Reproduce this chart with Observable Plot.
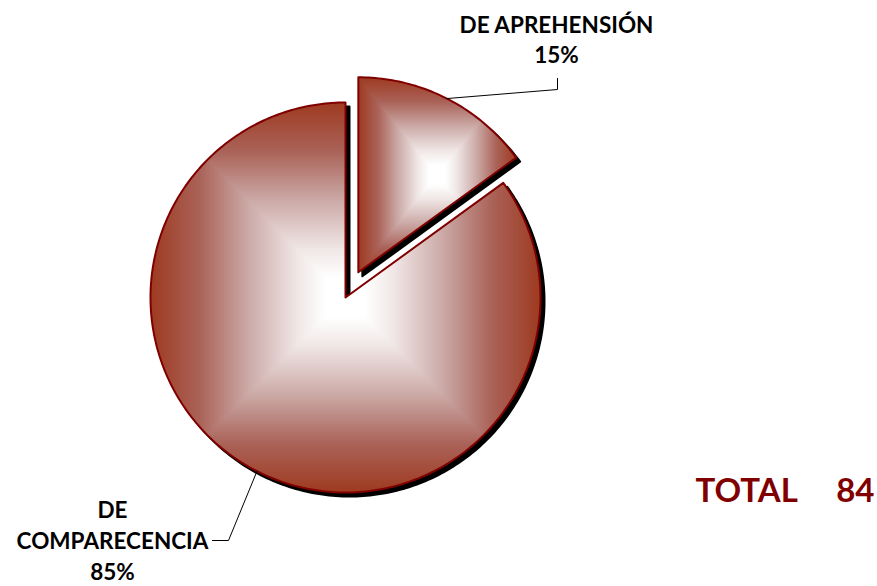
<!DOCTYPE html>
<html>
<head>
<meta charset="utf-8">
<script src="https://cdn.jsdelivr.net/npm/d3@7"></script>
<script src="https://cdn.jsdelivr.net/npm/@observablehq/plot@0.6"></script>
<style>
  html, body { margin: 0; padding: 0; background: #fff; }
  #chart { width: 877px; height: 586px; }
</style>
</head>
<body>
<div id="chart"></div>
<script>
// ---- data ----
const categories = ["DE APREHENSIÓN", "DE COMPARECENCIA"];
const percents = [15, 85];
const totalLabel = "TOTAL";
const totalValue = 84;

// ---- layout constants (pixels -> data units, radius = 1) ----
const W = 877, H = 586;
const R = 195;            // pie radius in px
const CX = 345, CY = 297; // pie centre in px
const xDomain = [-CX / R, (W - CX) / R];
const yDomain = [-(H - CY) / R, CY / R];
const explode = [0.145, 0];
const strokeColor = "#800000";
const gradStops = [
  [0, "#9e3a20"], [0.25, "#aa6258"], [0.5, "#cba9a6"], [0.75, "#efe6e5"], [0.9, "#ffffff"], [1, "#ffffff"]
];

// slices from the data (clockwise, starting at 12 o'clock)
const sum = d3.sum(percents);
let acc = 0;
const slices = categories.map((c, i) => {
  const a0 = acc / sum * 2 * Math.PI;
  acc += percents[i];
  const a1 = acc / sum * 2 * Math.PI;
  const mid = (a0 + a1) / 2;
  const ox = explode[i] * Math.sin(mid), oy = explode[i] * Math.cos(mid);
  return {name: c, pct: percents[i], a0, a1, mid, ox, oy};
});

// polygon outline of each slice in data units
const pts = [];
for (const s of slices) {
  pts.push({name: s.name, x: s.ox, y: s.oy});
  const n = Math.max(8, Math.ceil((s.a1 - s.a0) / (Math.PI / 180)));
  for (let k = 0; k <= n; k++) {
    const a = s.a0 + (s.a1 - s.a0) * k / n;
    pts.push({name: s.name, x: s.ox + Math.sin(a), y: s.oy + Math.cos(a)});
  }
}

// leader lines & labels
const P = (px, py) => [(px - CX) / R, (CY - py) / R];
const s0 = slices[0], s1 = slices[1];
const lead0a = [s0.ox + Math.sin(s0.mid), s0.oy + Math.cos(s0.mid)];
const lead1a = [s1.ox + Math.sin(s1.mid), s1.oy + Math.cos(s1.mid)];
const leaders = [
  {g: 0, x: lead0a[0], y: lead0a[1]},
  {g: 0, x: P(557, 89)[0], y: P(557, 89)[1]},
  {g: 0, x: P(557, 78)[0], y: P(557, 78)[1]},
  {g: 1, x: lead1a[0], y: lead1a[1]},
  {g: 1, x: P(228, 540)[0], y: P(228, 540)[1]},
  {g: 1, x: P(212, 540)[0], y: P(212, 540)[1]}
];
const labels = [
  {x: P(556, 25)[0], y: P(556, 25)[1], t: categories[0]},
  {x: P(556, 55)[0], y: P(556, 55)[1], t: percents[0] + "%"},
  {x: P(112, 510)[0], y: P(112, 510)[1], t: categories[1].split(" ")[0]},
  {x: P(112, 541)[0], y: P(112, 541)[1], t: categories[1].split(" ")[1]},
  {x: P(112, 572)[0], y: P(112, 572)[1], t: percents[1] + "%"}
];

const font = "Lato, 'Open Sans', sans-serif";

const chart = Plot.plot({
  width: W,
  height: H,
  margin: 0,
  x: {domain: xDomain, axis: null},
  y: {domain: yDomain, axis: null},
  style: {background: "white", overflow: "visible"},
  marks: [
    // shadows
    Plot.line(pts, {x: "x", y: "y", z: "name", curve: "linear-closed", fill: "black", stroke: "black", strokeWidth: 2, dx: 4, dy: 4}),
    // slices
    Plot.line(pts, {x: "x", y: "y", z: "name", curve: "linear-closed", fill: "url(#pyr)", stroke: strokeColor, strokeWidth: 2}),
    // leader lines
    Plot.line(leaders, {x: "x", y: "y", z: "g", stroke: "black", strokeWidth: 1}),
    // labels
    Plot.text(labels, {x: "x", y: "y", text: "t", fill: "black", fontSize: 22.5, fontWeight: "bold", fontFamily: font, textAnchor: "middle"}),
    Plot.text([totalLabel], {x: P(695, 0)[0], y: P(0, 491)[1], text: d => d, fill: "#800000", fontSize: 33, fontWeight: "bold", fontFamily: font, textAnchor: "start"}),
    Plot.text([totalValue], {x: P(874, 0)[0], y: P(0, 491)[1], text: d => String(d), fill: "#800000", fontSize: 33, fontWeight: "bold", fontFamily: font, textAnchor: "end"})
  ]
});

// pyramid (rectangular, from-centre) gradient as a bounding-box pattern
const svg = d3.select(chart);
const defs = svg.insert("defs", ":first-child");
const grads = [
  {id: "gT", x1: 0, y1: 0, x2: 0, y2: 1},
  {id: "gB", x1: 0, y1: 1, x2: 0, y2: 0},
  {id: "gL", x1: 0, y1: 0, x2: 1, y2: 0},
  {id: "gR", x1: 1, y1: 0, x2: 0, y2: 0}
];
for (const g of grads) {
  const lg = defs.append("linearGradient").attr("id", g.id)
    .attr("x1", g.x1).attr("y1", g.y1).attr("x2", g.x2).attr("y2", g.y2);
  for (const [o, c] of gradStops) lg.append("stop").attr("offset", o).attr("stop-color", c);
}
const pat = defs.append("pattern").attr("id", "pyr")
  .attr("patternUnits", "objectBoundingBox")
  .attr("patternContentUnits", "objectBoundingBox")
  .attr("width", 1).attr("height", 1);
// left / right halves as full rectangles (overlapping at the centre), then top / bottom triangles over them
pat.append("rect").attr("x", 0).attr("y", 0).attr("width", 0.5).attr("height", 1).attr("fill", "url(#gL)");
pat.append("rect").attr("x", 0.5).attr("y", 0).attr("width", 0.5).attr("height", 1).attr("fill", "url(#gR)");
pat.append("rect").attr("x", 0.495).attr("y", 0).attr("width", 0.01).attr("height", 1).attr("fill", "#ffffff");
pat.append("polygon").attr("points", "0,0 1,0 0.5,0.5").attr("fill", "url(#gT)");
pat.append("polygon").attr("points", "0,1 1,1 0.5,0.5").attr("fill", "url(#gB)");

document.getElementById("chart").appendChild(chart);
</script>
</body>
</html>
